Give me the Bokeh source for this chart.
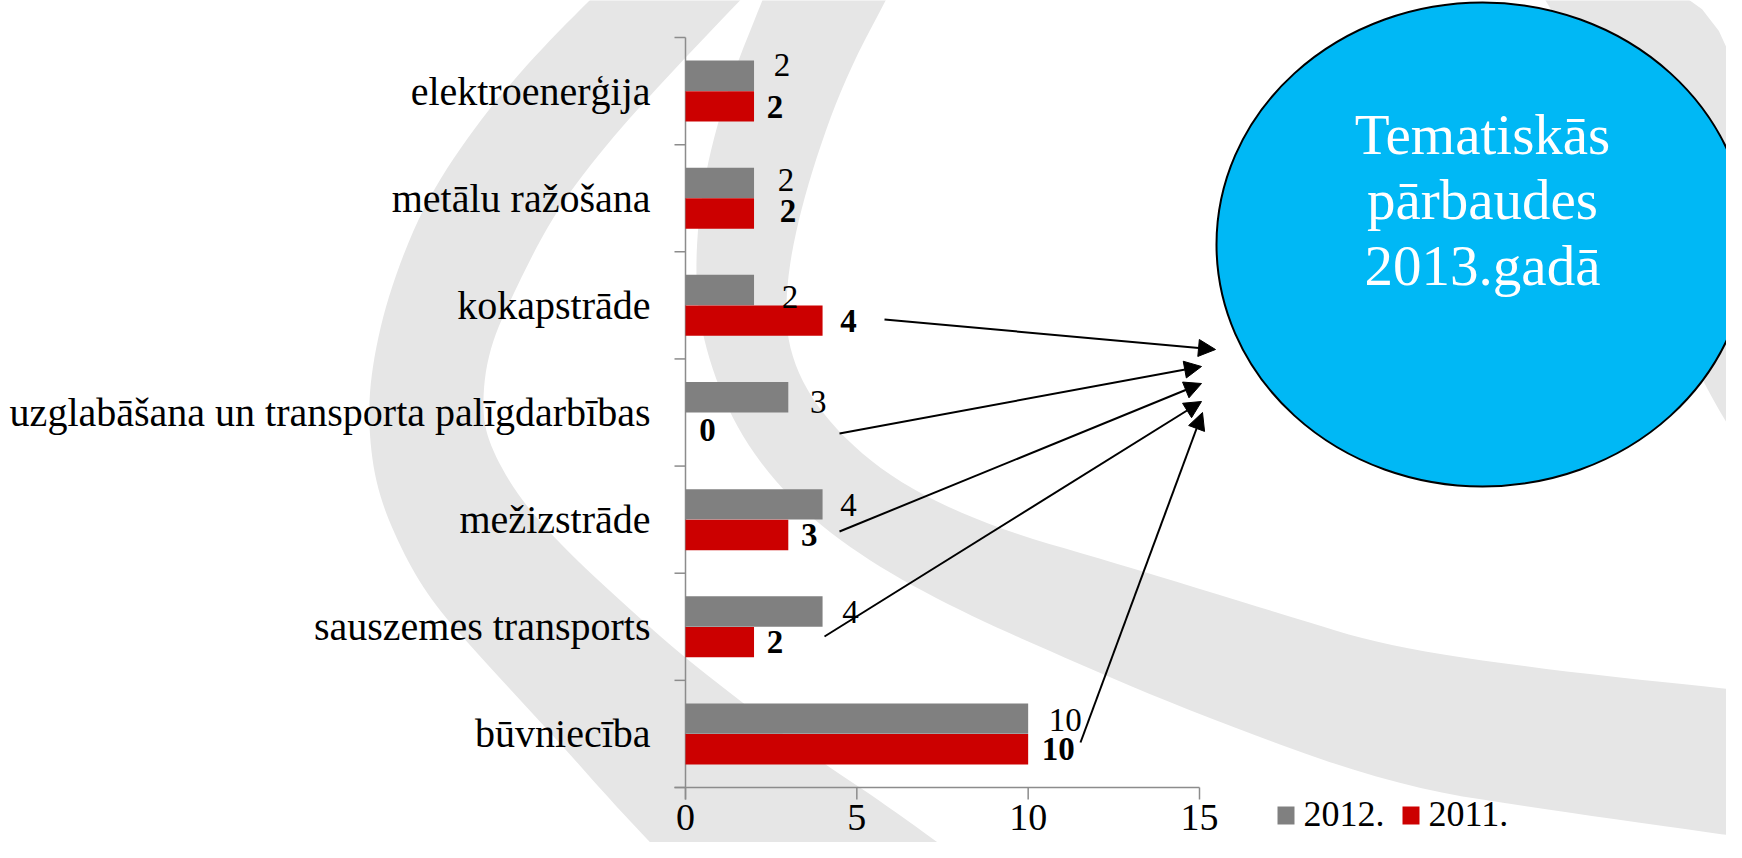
from bokeh.plotting import figure
from bokeh.models import Range1d, ColumnDataSource, Arrow, NormalHead
from bokeh.transform import dodge
from bokeh.core.properties import value
from bokeh.embed import file_html
from bokeh.resources import INLINE

# ---------------- data ----------------
categories = ["elektroenerģija", "metālu ražošana", "kokapstrāde",
              "uzglabāšana un transporta palīgdarbības", "mežizstrāde",
              "sauszemes transports", "būvniecība"]
values_2012 = [2, 2, 2, 3, 4, 4, 10]
values_2011 = [2, 2, 4, 0, 3, 2, 10]
series_names = ["2012.", "2011."]
x_ticks = [0, 5, 10, 15]
bubble_lines = ["Tematiskās", "pārbaudes", "2013.gadā"]

# ---------------- style ----------------
FONT = value("'Liberation Serif', 'Times New Roman', serif")
GRAY = "#808080"
RED = "#cc0000"
AXIS = "#8c8c8c"
BAND = "#e6e6e6"
BUBBLE = "#00b8f5"

# label offsets (screen px) of the data labels, as placed in the original
lbl_dx_2012 = [28, 32, 36, 30, 26, 28, 37]
lbl_dy_2012 = [-11, -3, 7, 5, 1, 1, 1]
lbl_dx_2011 = [21, 34, 26, 22, 21, 21, 30]
lbl_dy_2011 = [1, -3, 0, 2, 0, 0, 0]

# ---------------- geometry ----------------
W, H = 1726, 842
OX, OY = 8, 8                    # page margin
AX_X0, AX_X15 = 693, 1207         # pixel position of 0 and 15 on the value axis
AX_TOP, AX_BOT = 45, 795          # category axis extent
ppu = (AX_X15 - AX_X0) / 15.0
band = (AX_BOT - AX_TOP) / len(categories)
x_start = -(AX_X0 - OX) / ppu
x_end = x_start + W / ppu
y_start = -(OY + H - AX_BOT) / band
y_end = (AX_BOT - OY) / band

p = figure(width=W, height=H, x_range=Range1d(x_start, x_end),
           y_range=Range1d(y_start, y_end), output_backend="svg",
           toolbar_location=None, min_border=0, x_axis_location=None,
           y_axis_location=None, outline_line_color=None)
p.grid.visible = False
p.background_fill_color = "white"
p.extra_x_ranges = {"px": Range1d(OX, OX + W)}
p.extra_y_ranges = {"px": Range1d(OY + H, OY)}
PX = dict(x_range_name="px", y_range_name="px")


def smooth(pts, it=3):
    for _ in range(it):
        out = [pts[0]]
        for (x0, y0), (x1, y1) in zip(pts[:-1], pts[1:]):
            out.append((0.75 * x0 + 0.25 * x1, 0.75 * y0 + 0.25 * y1))
            out.append((0.25 * x0 + 0.75 * x1, 0.25 * y0 + 0.75 * y1))
        out.append(pts[-1])
        pts = out
    return pts


# decorative background swooshes
A_outer = [(610, -5), (545, 60), (485, 130), (432, 210), (396, 300), (378, 380),
           (376, 440), (385, 500), (410, 560), (440, 610), (484, 660), (530, 710),
           (576, 760), (620, 810), (672, 865)]
A_inner = [(966, 865), (890, 810), (815, 760), (750, 710), (686, 660), (630, 610),
           (576, 560), (530, 510), (500, 460), (489, 421), (495, 360), (521, 300),
           (562, 220), (615, 150), (688, 70), (760, -5)]
B_outer = [(775, -5), (733, 100), (708, 200), (702, 290), (713, 360), (745, 440),
           (800, 510), (870, 565), (960, 615), (1060, 660), (1200, 720),
           (1400, 793), (1560, 818), (1760, 846)]
B_inner = [(1760, 699), (1560, 678), (1400, 655), (1300, 625), (1128, 572),
           (1000, 535), (900, 488), (830, 425), (795, 360), (793, 290),
           (812, 200), (850, 90), (900, -5)]
C_shape = [(1545, -5), (1760, -5), (1760, 460), (1742, 445), (1700, 370),
           (1660, 270), (1620, 160), (1585, 60), (1545, -5)]
for outer, inner in [(A_outer, A_inner), (B_outer, B_inner)]:
    pts = smooth(outer) + smooth(inner)
    p.patch([q[0] for q in pts], [q[1] for q in pts], fill_color=BAND,
            line_color=None, **PX)
cp = smooth(C_shape)
p.patch([q[0] for q in cp], [q[1] for q in cp], fill_color=BAND, line_color=None, **PX)

# ---------------- chart ----------------
n = len(categories)
ypos = [n - 0.5 - i for i in range(n)]
src = ColumnDataSource(dict(cat=categories, y=ypos, v12=values_2012, v11=values_2011,
                            t12=[str(v) for v in values_2012],
                            t11=[str(v) for v in values_2011],
                            dx12=lbl_dx_2012, dy12=lbl_dy_2012,
                            dx11=lbl_dx_2011, dy11=lbl_dy_2011))
off = 15.3 / band
bh = 30.4 / band

# axes
tick_len_px = 12
p.segment(x0=[0], y0=[-tick_len_px / band], x1=[0], y1=[n], line_color=AXIS, line_width=1.5)
p.segment(x0=[-11 / ppu], y0=[0], x1=[x_ticks[-1]], y1=[0], line_color=AXIS, line_width=1.5)
bounds = list(range(n + 1))
p.segment(x0=[-11 / ppu] * len(bounds), y0=bounds, x1=[0] * len(bounds), y1=bounds,
          line_color=AXIS, line_width=1.5)
p.segment(x0=x_ticks, y0=[0] * len(x_ticks), x1=x_ticks,
          y1=[-tick_len_px / band] * len(x_ticks), line_color=AXIS, line_width=1.5)
p.text(x=x_ticks, y=[0] * len(x_ticks), text=[str(t) for t in x_ticks], y_offset=30,
       text_align="center", text_baseline="middle", text_font=FONT,
       text_font_size="38px", text_color="black")
p.text(x=0, y="y", text="cat", source=src, x_offset=-35, text_align="right",
       text_baseline="middle", text_font=FONT, text_font_size="40px", text_color="black")

# bars
p.hbar(y=dodge("y", off), left=0, right="v12", height=bh, source=src,
       fill_color=GRAY, line_color=None)
p.hbar(y=dodge("y", -off), left=0, right="v11", height=bh, source=src,
       fill_color=RED, line_color=None)

# data labels
p.text(x="v12", y=dodge("y", off), text="t12", source=src, x_offset="dx12",
       y_offset="dy12", text_align="center", text_baseline="middle", text_font=FONT,
       text_font_size="33px", text_color="black")
p.text(x="v11", y=dodge("y", -off), text="t11", source=src, x_offset="dx11",
       y_offset="dy11", text_align="center", text_baseline="middle", text_font=FONT,
       text_font_size="33px", text_font_style="bold", text_color="black")

# legend
p.rect(x=[1293.5, 1418.5], y=[823, 823], width=17, height=18,
       fill_color=[GRAY, RED], line_color=None, **PX)
p.text(x=[1311, 1436], y=[821, 821], text=series_names, text_align="left",
       text_baseline="middle", text_font=FONT, text_font_size="36px",
       text_color="black", **PX)

# bubble
p.ellipse(x=[1490], y=[252], width=[532], height=[484], fill_color=BUBBLE,
          line_color="black", line_width=2, **PX)
p.text(x=[1490] * 3, y=[142, 207, 273], text=bubble_lines, text_align="center",
       text_baseline="alphabetic", text_font=FONT, text_font_size="57px",
       text_color="white", **PX)

# arrows
arrows = [((892, 327), (1223, 357)), ((847, 441), (1209, 374)),
          ((847, 539), (1209, 391)), ((832, 644), (1209, 409)),
          ((1088, 750), (1210, 420))]
for (xs, ys), (xe, ye) in arrows:
    p.add_layout(Arrow(end=NormalHead(size=17, fill_color="black", line_color="black",
                                      line_width=1),
                       x_start=xs, y_start=ys, x_end=xe, y_end=ye,
                       line_color="black", line_width=2, **PX))

open("out.html", "w").write(file_html(p, INLINE))
